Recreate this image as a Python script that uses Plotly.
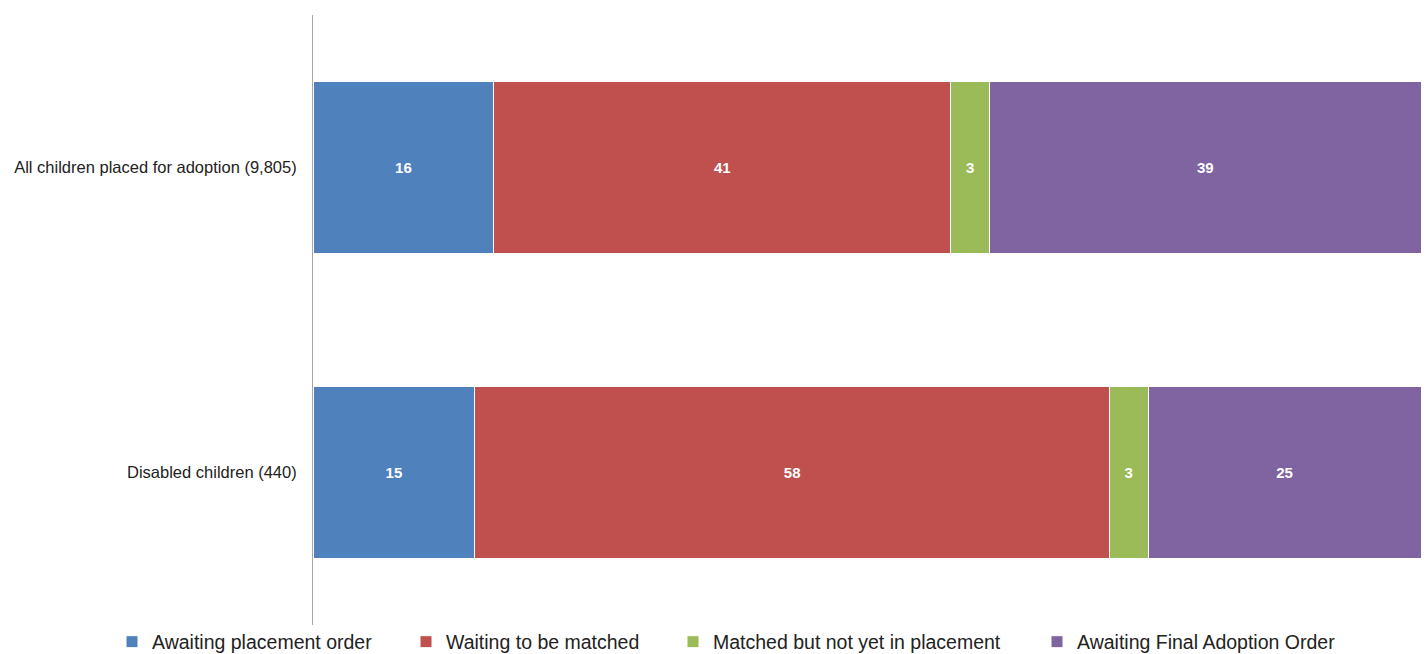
import plotly.graph_objects as go

categories = ["All children placed for adoption (9,805)", "Disabled children (440)"]
series_names = ["Awaiting placement order", "Waiting to be matched",
                "Matched but not yet in placement", "Awaiting Final Adoption Order"]
# estimated shares (percent)
values = [
    [16.3, 14.6],
    [41.2, 57.2],
    [3.5, 3.5],
    [38.9, 24.6],
]
# labels printed on the bars
labels = [
    ["16", "15"],
    ["41", "58"],
    ["3", "3"],
    ["39", "25"],
]
colors = ["#4F81BD", "#C0504D", "#9BBB59", "#8064A2"]
legend_ids = ["legend", "legend2", "legend3", "legend4"]
legend_x_px = [112, 406, 673, 1037]

W, H = 1426, 654
fig = go.Figure()
for name, vals, labs, col, lid in zip(series_names, values, labels, colors, legend_ids):
    fig.add_trace(go.Bar(
        y=categories, x=vals, name=name, orientation="h",
        text=labs, textposition="inside", insidetextanchor="middle",
        textfont=dict(color="white", size=15, family="Liberation Sans"),
        texttemplate="<b>%{text}</b>",
        marker=dict(color=col, line=dict(color="white", width=1)),
        hoverinfo="skip", legend=lid,
    ))

legend_common = dict(orientation="h", xref="container", yref="container",
                     xanchor="left", yanchor="middle", y=12 / H,
                     font=dict(size=19.5, color="#222222"), itemwidth=30,
                     bgcolor="rgba(0,0,0,0)")
layout_legends = {lid: dict(legend_common, x=px / W) for lid, px in zip(legend_ids, legend_x_px)}

fig.update_layout(
    barmode="stack", barnorm="percent",
    width=W, height=H,
    margin=dict(l=313, r=5, t=15, b=29, autoexpand=False),
    paper_bgcolor="white", plot_bgcolor="white",
    bargap=0.433,
    font=dict(family="Liberation Sans", color="#222222"),
    xaxis=dict(range=[0, 100], visible=False, fixedrange=True),
    yaxis=dict(categoryorder="array", categoryarray=categories[::-1],
               showline=True, linecolor="#A6A6A6", linewidth=1,
               ticks="", ticklen=0, ticklabelstandoff=12,
               tickfont=dict(size=16.5, color="#222222")),
    showlegend=True,
    **layout_legends,
)
fig.write_html(
    "out.html",
    config={"displayModeBar": False},
    post_script="document.body.style.margin='0';document.body.style.overflow='hidden';",
)
